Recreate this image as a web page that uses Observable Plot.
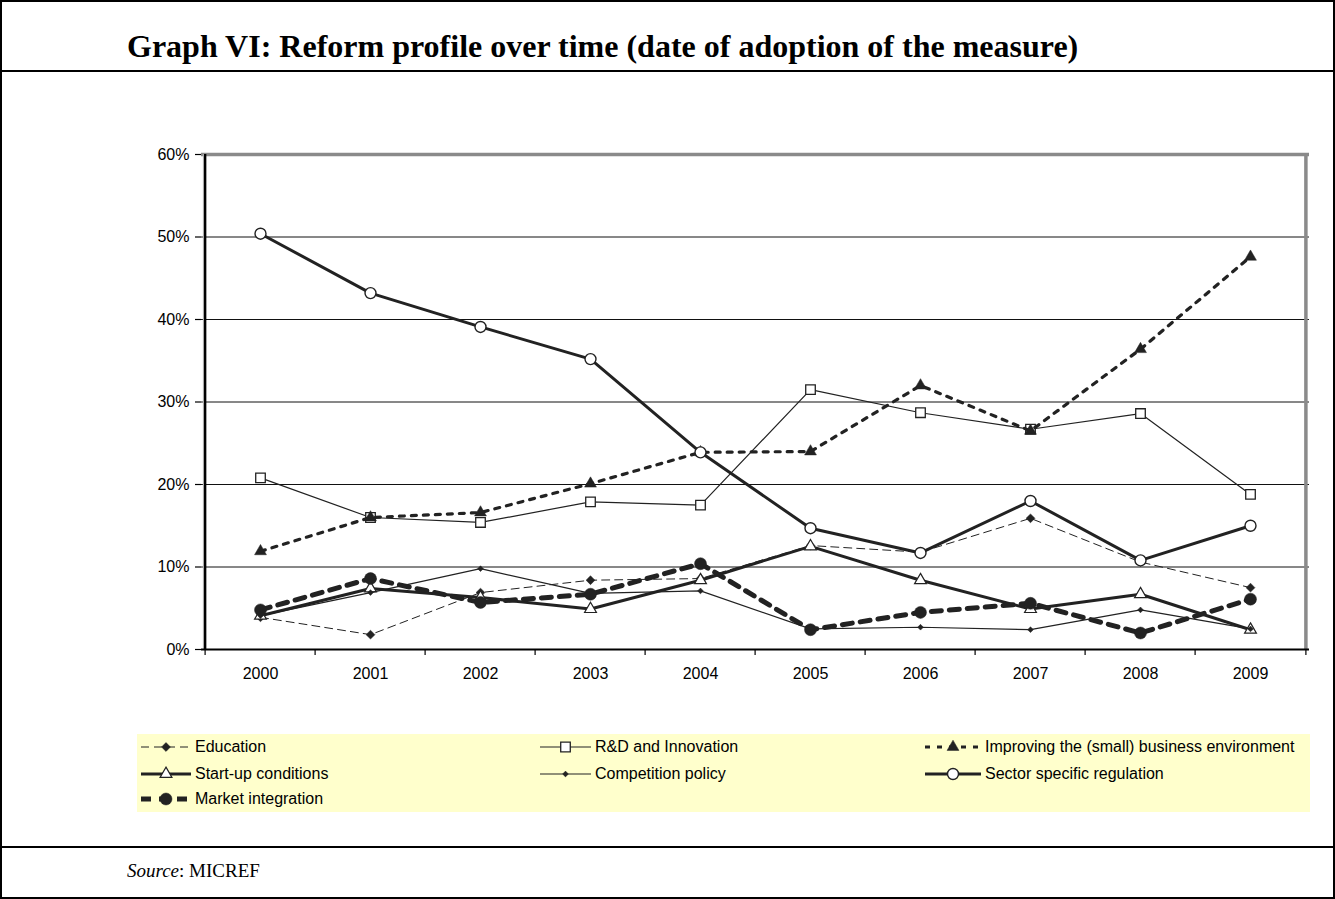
<!DOCTYPE html>
<html>
<head>
<meta charset="utf-8">
<script src="https://cdn.jsdelivr.net/npm/d3@7"></script>
<script src="https://cdn.jsdelivr.net/npm/@observablehq/plot@0.6"></script>
<style>
  html, body { margin: 0; padding: 0; background: #fff; }
  #page { position: relative; width: 1335px; height: 899px; overflow: hidden; font-family: "Liberation Sans", Arial, sans-serif; }
  .box { position: absolute; left: 0; top: 0; width: 1335px; height: 899px; box-sizing: border-box; border: 2px solid #000; }
  .hline { position: absolute; left: 0; width: 1335px; height: 2px; background: #000; }
  #title { position: absolute; left: 127px; top: 26px; font-family: "Liberation Serif", "Times New Roman", serif; font-weight: bold; font-size: 32px; line-height: 40px; white-space: nowrap; color: #000; }
  #source { position: absolute; left: 127px; top: 858px; font-family: "Liberation Serif", "Times New Roman", serif; font-size: 19px; line-height: 26px; white-space: nowrap; color: #000; }
  #chart { position: absolute; left: 0; top: 72px; }
  #legend { position: absolute; left: 137px; top: 734px; width: 1173px; height: 78px; background: #FFFFCC; }
  .item { position: absolute; height: 20px; }
  .item svg { position: absolute; left: 0; top: 2px; }
  .item span { position: absolute; top: 0; font-size: 16px; line-height: 20px; white-space: nowrap; color: #000; }
</style>
</head>
<body>
<div id="page">
  <div class="box"></div>
  <div class="hline" style="top:70px"></div>
  <div class="hline" style="top:846px"></div>
  <div id="title">Graph VI: Reform profile over time (date of adoption of the measure)</div>
  <div id="chart"></div>
  <div id="legend"></div>
  <div id="source"><i>Source</i>: MICREF</div>
</div>
<script>
// ---- Data (shares of measures adopted, by year) ----
const years = ["2000","2001","2002","2003","2004","2005","2006","2007","2008","2009"];
const education   = [0.039, 0.018, 0.069, 0.084, 0.086, 0.126, 0.118, 0.159, 0.106, 0.075];
const rdInnovation = [0.208, 0.160, 0.154, 0.179, 0.175, 0.315, 0.287, 0.267, 0.286, 0.188];
const businessEnv = [0.119, 0.160, 0.166, 0.201, 0.239, 0.240, 0.320, 0.265, 0.364, 0.476];
const startUp     = [0.041, 0.074, 0.063, 0.049, 0.084, 0.125, 0.084, 0.049, 0.067, 0.024];
const competition = [0.041, 0.069, 0.098, 0.068, 0.071, 0.025, 0.027, 0.024, 0.048, 0.025];
const sectorReg   = [0.504, 0.432, 0.391, 0.352, 0.239, 0.147, 0.117, 0.180, 0.108, 0.150];
const marketInt   = [0.048, 0.086, 0.057, 0.067, 0.104, 0.024, 0.045, 0.056, 0.020, 0.061];
const yTicks = [0, 0.1, 0.2, 0.3, 0.4, 0.5, 0.6];
const gridTicks = [0.1, 0.2, 0.3, 0.4, 0.5];

const seriesNames = ["Education","R&D and Innovation","Improving the (small) business environment",
  "Start-up conditions","Competition policy","Sector specific regulation","Market integration"];
const seriesValues = [education, rdInnovation, businessEnv, startUp, competition, sectorReg, marketInt];

// ---- Styles per series ----
const styles = {
  "Education": {line: {stroke: "#222", strokeWidth: 1, strokeDasharray: "8,5"}, dot: {symbol: "diamond2", r: 4, fill: "#222", stroke: "#222", strokeWidth: 0.5}},
  "R&D and Innovation": {line: {stroke: "#222", strokeWidth: 1.2}, dot: {symbol: "square", r: 5.4, fill: "#fff", stroke: "#222", strokeWidth: 1.3}},
  "Improving the (small) business environment": {line: {stroke: "#222", strokeWidth: 3.2, strokeDasharray: "5,7"}, dot: {symbol: "triangle", r: 4.4, fill: "#222", stroke: "#222", strokeWidth: 0.5}},
  "Start-up conditions": {line: {stroke: "#222", strokeWidth: 3}, dot: {symbol: "triangle", r: 4.4, fill: "#fff", stroke: "#222", strokeWidth: 1.2}},
  "Competition policy": {line: {stroke: "#222", strokeWidth: 1.2}, dot: {symbol: "diamond2", r: 2.6, fill: "#222", stroke: "#222", strokeWidth: 0.5}},
  "Sector specific regulation": {line: {stroke: "#222", strokeWidth: 3}, dot: {symbol: "circle", r: 5.5, fill: "#fff", stroke: "#222", strokeWidth: 1.4}},
  "Market integration": {line: {stroke: "#222", strokeWidth: 5, strokeDasharray: "10,8"}, dot: {symbol: "circle", r: 6, fill: "#222", stroke: "#222", strokeWidth: 0.5}}
};

const rows = [];
seriesNames.forEach((name, si) => {
  seriesValues[si].forEach((v, i) => rows.push({series: name, year: years[i], value: v}));
});

// ---- Layout ----
const W = 1335, H = 660;
const mL = 201, mR = 26, mT = 82, mB = 83;
const step = (W - mL - mR) / years.length;
const plotH = H - mT - mB;

const marks = [
  Plot.ruleY(gridTicks, {stroke: "#111", strokeWidth: 1}),
  Plot.ruleY([0.6], {stroke: "#8a8a8a", strokeWidth: 3.5}),
  Plot.ruleX([years[years.length - 1]], {dx: step / 2, stroke: "#8a8a8a", strokeWidth: 3.5}),
  Plot.ruleX([years[0]], {dx: -step / 2 - 1.5, stroke: "#c8c8c8", strokeWidth: 1.5}),
  Plot.ruleX([years[0]], {dx: -step / 2, stroke: "#000", strokeWidth: 2.5}),
  Plot.ruleY([0], {stroke: "#000", strokeWidth: 2}),
  // x tick marks at category boundaries
  Plot.ruleX(years, {dx: -step / 2, insetTop: plotH, insetBottom: -6, stroke: "#000", strokeWidth: 1.2}),
  Plot.ruleX([years[years.length - 1]], {dx: step / 2, insetTop: plotH, insetBottom: -6, stroke: "#000", strokeWidth: 1.2}),
  Plot.axisY({ticks: yTicks, tickFormat: d3.format(".0%"), tickSize: 6, tickPadding: 6, stroke: "#000", strokeWidth: 1.2, fontSize: 16}),
  Plot.axisX({tickSize: 0, tickPadding: 18, fontSize: 16})
];

seriesNames.forEach(name => {
  const data = rows.filter(d => d.series === name);
  const s = styles[name];
  marks.push(Plot.line(data, {x: "year", y: "value", strokeLinejoin: "round", ...s.line}));
  marks.push(Plot.dot(data, {x: "year", y: "value", ...s.dot}));
});

const chart = Plot.plot({
  width: W, height: H,
  marginLeft: mL, marginRight: mR, marginTop: mT, marginBottom: mB,
  style: {fontFamily: "'Liberation Sans', Arial, sans-serif", fontSize: "16px", color: "#000", background: "transparent"},
  x: {type: "point", domain: years, padding: 0.5, label: null, axis: null},
  y: {domain: [0, 0.6], label: null, axis: null},
  marks
});
document.getElementById("chart").appendChild(chart);

// ---- Legend ----
const legendCols = [{sym: 141, text: 195}, {sym: 540, text: 595}, {sym: 925, text: 985}];
const legendRows = [747, 774, 799];
const legendEl = document.getElementById("legend");
const symMap = {circle: d3.symbolCircle, square: d3.symbolSquare, triangle: d3.symbolTriangle, diamond2: d3.symbolDiamond2};
seriesNames.forEach((name, i) => {
  const col = legendCols[i % 3], row = legendRows[Math.floor(i / 3)];
  const s = styles[name];
  const sw = col.text - col.sym - 4;
  const item = document.createElement("div");
  item.className = "item";
  item.style.left = (col.sym - 137) + "px";
  item.style.top = (row - 10 - 734) + "px";
  const path = d3.symbol(symMap[s.dot.symbol], Math.PI * s.dot.r * s.dot.r)();
  const dash = s.line.strokeDasharray ? `stroke-dasharray="${s.line.strokeDasharray}"` : "";
  item.innerHTML = `<svg width="${sw}" height="16" viewBox="0 0 ${sw} 16">
    <line x1="0" x2="${sw}" y1="8" y2="8" stroke="${s.line.stroke}" stroke-width="${s.line.strokeWidth}" ${dash}/>
    <path d="${path}" transform="translate(${sw / 2},8)" fill="${s.dot.fill}" stroke="${s.dot.stroke}" stroke-width="${s.dot.strokeWidth}"/>
  </svg><span style="left:${col.text - col.sym}px">${name.replace("&", "&amp;")}</span>`;
  legendEl.appendChild(item);
});
</script>
</body>
</html>
